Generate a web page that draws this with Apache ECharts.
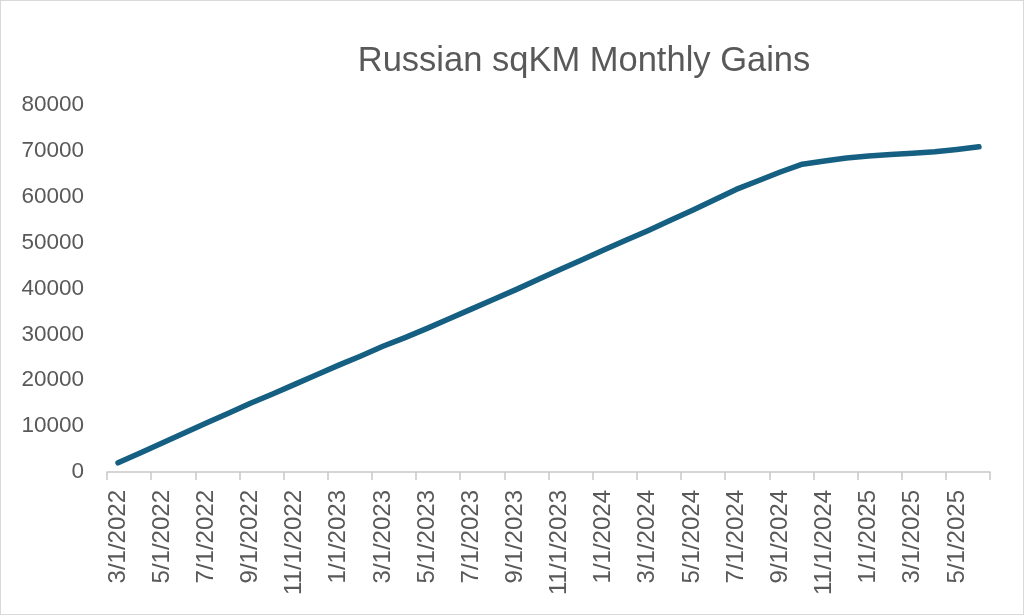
<!DOCTYPE html>
<html>
<head>
<meta charset="utf-8">
<title>Russian sqKM Monthly Gains</title>
<script src="https://cdn.jsdelivr.net/npm/echarts@6/dist/echarts.min.js"></script>
<style>
  html, body { margin: 0; padding: 0; background: #fff; }
  #chart { width: 1022px; height: 613px; border: 1px solid #d9d9d9; }
</style>
</head>
<body>
<div id="chart"></div>
<script>
// 月份（每月 1 日）
const months = [
  '3/1/2022', '4/1/2022', '5/1/2022', '6/1/2022', '7/1/2022', '8/1/2022', '9/1/2022', '10/1/2022',
  '11/1/2022', '12/1/2022', '1/1/2023', '2/1/2023', '3/1/2023', '4/1/2023', '5/1/2023', '6/1/2023',
  '7/1/2023', '8/1/2023', '9/1/2023', '10/1/2023', '11/1/2023', '12/1/2023', '1/1/2024', '2/1/2024',
  '3/1/2024', '4/1/2024', '5/1/2024', '6/1/2024', '7/1/2024', '8/1/2024', '9/1/2024', '10/1/2024',
  '11/1/2024', '12/1/2024', '1/1/2025', '2/1/2025', '3/1/2025', '4/1/2025', '5/1/2025', '6/1/2025'
];
// 累计面积 sqKM
const gains = [
  2000, 4150, 6300, 8500, 10700, 12800, 15000, 17000,
  19100, 21200, 23300, 25300, 27400, 29300, 31300, 33400,
  35500, 37600, 39700, 41900, 44100, 46200, 48400, 50500,
  52600, 54800, 57000, 59300, 61600, 63500, 65400, 67100,
  67800, 68450, 68900, 69200, 69500, 69800, 70300, 70900
];
const yTicks = { min: 0, max: 80000, step: 10000 };

const chart = echarts.init(document.getElementById('chart'));
const textColor = '#595959';
const axisGray = '#c8c8c8';

chart.setOption({
  animation: false,
  title: {
    text: 'Russian sqKM Monthly Gains',
    left: 578,
    top: 38,
    textAlign: 'center',
    textStyle: { fontFamily: 'Liberation Sans', fontSize: 34.5, fontWeight: 'normal', color: textColor }
  },
  grid: { left: 106, right: 33, top: 104, bottom: 142 },
  xAxis: {
    type: 'category',
    data: months,
    boundaryGap: true,
    axisLine: { lineStyle: { color: axisGray, width: 1.5 } },
    axisTick: { show: true, interval: 1, alignWithLabel: false, length: 8, lineStyle: { color: axisGray, width: 1.5 } },
    axisLabel: {
      interval: 1,
      rotate: 90,
      margin: 18,
      fontFamily: 'Liberation Sans',
      fontSize: 24,
      color: textColor
    }
  },
  yAxis: {
    type: 'value',
    min: yTicks.min,
    max: yTicks.max,
    interval: yTicks.step,
    axisLine: { show: false },
    axisTick: { show: false },
    splitLine: { show: false },
    axisLabel: {
      margin: 23,
      fontFamily: 'Liberation Sans',
      fontSize: 22.5,
      color: textColor,
      formatter: v => String(v)
    }
  },
  series: [{
    type: 'line',
    data: gains,
    symbol: 'none',
    lineStyle: { color: '#156082', width: 5.5, cap: 'round', join: 'round' }
  }]
});
</script>
</body>
</html>
